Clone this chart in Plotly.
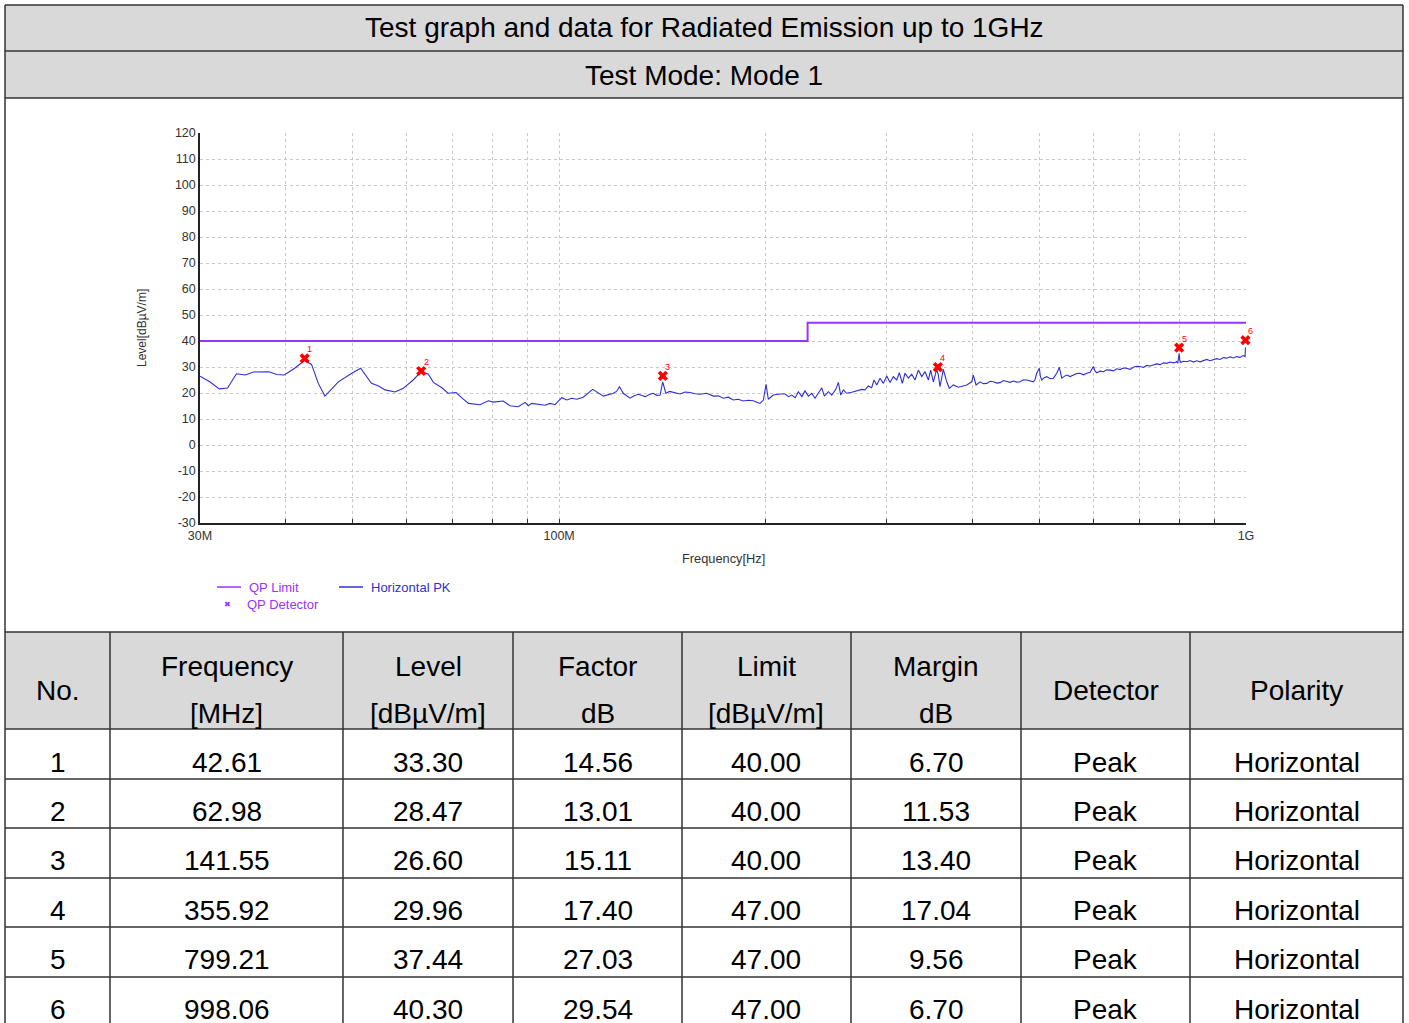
import math
import plotly.graph_objects as go

# ---------------- data ----------------
limit_freq = [30, 230, 230, 1000]
limit_level = [40, 40, 47, 47]

pk_freq = [30.0, 31.0, 32.0, 32.9, 33.9, 34.9, 35.9, 37.8, 38.8, 39.8, 41.2, 42.6, 43.6, 44.6, 45.6,
           47.7, 49.9, 51.4, 53.3, 54.5, 55.8, 57.7, 59.3, 61.3, 63.0, 64.5, 65.6, 67.5, 68.9, 70.8,
           72.1, 73.8, 76.7, 78.9, 80.2, 82.9, 84.8, 87.2, 89.2, 90.2, 91.2, 92.8, 95.4, 97.0, 98.6,
           100.9, 102.6, 104.3, 106.1, 108.4, 111.9, 116.0, 118.0, 119.9, 121.2, 122.4, 124.0, 125.4,
           126.8, 128.6, 130.4, 132.0, 133.4, 135.3, 137.1, 138.7, 140.3, 141.5, 143.0, 144.8, 146.6,
           148.3, 150.0, 152.5, 155.1, 157.7, 160.4, 163.9, 167.7, 170.5, 173.4, 176.3, 179.3, 182.3,
           185.4, 188.6, 191.8, 194.0, 196.1, 198.3, 200.1, 201.6, 205.0, 209.7,
           213.3, 215.7, 218.1, 220.6, 223.0, 225.6, 228.0, 230.6, 233.2, 235.8, 238.4, 241.2, 243.3,
           246.6, 249.4, 252.8, 255.0, 257.0, 259.3, 262.2, 266.7, 271.2, 275.8, 278.8, 281.9, 285.1,
           287.3, 290.0, 293.2, 296.5, 299.9, 303.2, 306.6, 310.1, 312.8, 316.0, 318.8, 322.4, 326.1,
           329.7, 333.4, 337.2, 341.0, 344.8, 347.5, 350.6, 354.6, 356.5, 358.5, 362.5, 366.7, 369.9,
           374.9, 381.3, 387.7, 392.2, 398.7, 400.9, 404.5, 410.0, 414.6, 419.4, 424.0, 428.8, 433.6,
           438.5, 443.4, 448.4, 453.4, 458.5, 463.6, 468.8, 474.1, 479.5, 484.8, 490.2, 493.0, 495.8,
           500.2, 502.0, 504.3, 508.5, 512.8, 518.5, 524.3, 527.3, 530.2, 534.9, 537.0, 539.2, 543.7,
           548.3, 554.5, 560.7, 567.0, 573.4, 579.9, 586.4, 592.9, 599.5, 603.0, 606.4, 613.2, 620.0,
           627.0, 634.1, 641.1, 648.3, 655.6, 663.0, 670.5, 678.0, 685.5, 693.2, 701.1, 709.0, 717.0,
           725.0, 733.0, 741.3, 749.7, 758.2, 766.7, 775.0, 784.0, 788.4, 792.0, 795.5, 799.2, 801.0,
           803.7, 810.0, 820.0, 829.0, 838.3, 848.0, 857.3, 867.0, 876.8, 886.5, 896.4, 906.5, 916.7,
           927.0, 937.5, 948.0, 958.6, 969.4, 980.4, 990.0, 996.9, 998.1, 1000.0]
pk_level = [26.5, 24.3, 21.6, 21.9, 27.4, 26.9, 28.1, 28.2, 27.1, 26.9, 29.5, 32.5, 31.0, 23.7, 18.8,
            24.3, 27.6, 29.5, 23.7, 22.8, 21.2, 20.4, 21.8, 25.0, 28.3, 27.2, 24.1, 22.0, 19.9, 20.2,
            18.2, 16.0, 15.5, 17.0, 16.5, 16.9, 15.1, 14.7, 16.4, 15.1, 16.0, 15.7, 15.3, 16.0, 15.5,
            18.2, 17.3, 18.0, 17.6, 18.4, 21.4, 18.8, 19.3, 19.9, 20.6, 22.4, 19.9, 18.9,
            18.0, 18.9, 19.5, 19.0, 18.6, 19.4, 19.9, 19.1, 19.2, 24.3, 19.9, 20.6, 20.3,
            19.8, 19.6, 20.4, 20.2, 19.7, 19.5, 19.9, 18.8, 18.9, 18.0, 18.4, 17.3, 17.6,
            16.9, 17.2, 17.0, 16.4, 16.0, 17.3, 23.3, 17.6, 19.2, 19.6,
            19.6, 18.6, 19.2, 18.2, 20.5, 18.6, 20.8, 18.8, 19.9, 18.0, 19.9, 22.0, 18.8,
            20.5, 19.2, 21.4, 24.1, 19.2, 21.2, 19.9, 20.3, 20.8, 21.4, 21.2, 22.7, 22.0,
            25.0, 23.1, 25.7, 23.7, 26.5, 24.0, 26.3, 25.0, 27.8, 23.7, 27.6, 25.7, 27.2,
            25.0, 28.8, 26.3, 28.2, 25.0, 28.8, 24.3, 29.1, 27.0, 22.4, 29.1, 24.3, 21.8,
            23.1, 22.2, 22.6, 23.1, 24.3, 26.9, 23.1, 24.3, 23.6, 23.7, 24.5, 24.3, 23.8,
            24.0, 24.8, 24.3, 24.1, 24.6, 24.2, 24.3, 25.1, 25.0, 24.6, 24.3, 25.2, 27.6,
            29.5, 26.3, 25.0, 25.9, 26.3, 25.5, 25.7, 26.8, 27.6, 29.9, 27.1, 25.7, 26.4,
            26.9, 26.3, 26.9, 27.5, 27.6, 27.0, 27.6, 28.0, 30.2, 28.4, 27.8, 28.4, 28.2,
            28.9, 28.8, 28.5, 29.3, 29.0, 29.6, 29.5, 29.1, 29.9, 30.3, 30.2, 29.8, 30.6,
            30.4, 30.8, 31.2, 30.9, 31.6, 31.4, 31.9, 31.6, 31.7, 32.1, 31.5, 35.3, 32.6,
            31.7, 32.2, 32.0, 32.5, 31.9, 32.4, 32.0, 32.6, 32.9, 32.4, 32.7, 33.2, 32.9,
            33.6, 33.4, 33.9, 33.5, 34.0, 33.7, 34.4, 34.0, 37.5, 37.0]

det_no = [1, 2, 3, 4, 5, 6]
det_freq = [42.61, 62.98, 141.55, 355.92, 799.21, 998.06]
det_level = [33.30, 28.47, 26.60, 29.96, 37.44, 40.30]
det_factor = [14.56, 13.01, 15.11, 17.40, 27.03, 29.54]
det_limit = [40.00, 40.00, 40.00, 47.00, 47.00, 47.00]
det_margin = [6.70, 11.53, 13.40, 17.04, 9.56, 6.70]
det_detector = ["Peak"] * 6
det_polarity = ["Horizontal"] * 6

grid_freq = [30, 40, 50, 60, 70, 80, 90, 100, 200, 300, 400, 500, 600, 700, 800, 900, 1000]
grid_label = ["30M", "", "", "", "", "", "", "100M", "", "", "", "", "", "", "", "", "1G"]
y_ticks = [-30, -20, -10, 0, 10, 20, 30, 40, 50, 60, 70, 80, 90, 100, 110, 120]
y_labels = ["-30", "-20", "-10", "0", "10", "20", "30", "40", "50", "60", "70", "80", "90", "100", "110", "120"]

header_top = ["No.", "Frequency", "Level", "Factor", "Limit", "Margin", "Detector", "Polarity"]
header_bottom = ["", "[MHz]", "[dBµV/m]", "dB", "[dBµV/m]", "dB", "", ""]

title_1 = "Test graph and data for Radiated Emission up to 1GHz"
title_2 = "Test Mode: Mode 1"

# ---------------- layout helpers ----------------
W, H = 1409, 1023
def px(x):
    return x / W
def py(y):
    return 1 - y / H

FONT = "Arial, Liberation Sans, sans-serif"
LIMIT_C = "#9933ff"
PK_C = "#2f2fd6"
BORDER = "#333333"
BIG = 28

fig = go.Figure()

fig.add_trace(go.Scatter(x=limit_freq, y=limit_level, mode="lines",
                         line=dict(color=LIMIT_C, width=2), name="QP Limit", showlegend=False))
fig.add_trace(go.Scatter(x=pk_freq, y=pk_level, mode="lines",
                         line=dict(color=PK_C, width=1.1), name="Horizontal PK", showlegend=False))
fig.add_trace(go.Scatter(x=det_freq, y=det_level, mode="markers",
                         marker=dict(symbol="x", size=9, color="#ff0000", line=dict(width=0)),
                         name="QP Detector", showlegend=False, cliponaxis=False))

annotations = []
shapes = []

def note(x, y, text, size, color="#000000", xanchor="center", family=FONT, **kw):
    annotations.append(dict(x=px(x), y=py(y), xref="paper", yref="paper", text=text, showarrow=False,
                            xanchor=xanchor, yanchor="middle", font=dict(family=family, size=size, color=color), **kw))

# marker labels
for n, f, l in zip(det_no, det_freq, det_level):
    annotations.append(dict(x=math.log10(f), y=l, xref="x", yref="y", text=str(n), showarrow=False,
                            xanchor="center", yanchor="middle",
                            xshift=5, yshift=9, font=dict(family=FONT, size=9, color="#ff0000")))

# axis titles
note(723, 558, "Frequency[Hz]", 12.8, "#333333")
note(142, 328, "Level[dBµV/m]", 12, "#333333", textangle=-90)

# legend
shapes.append(dict(type="line", xref="paper", yref="paper", x0=px(217), x1=px(241), y0=py(587), y1=py(587),
                   line=dict(color=LIMIT_C, width=1.5)))
note(247, 587, "QP Limit", 13, LIMIT_C, xanchor="left")
shapes.append(dict(type="line", xref="paper", yref="paper", x0=px(339), x1=px(363), y0=py(587), y1=py(587),
                   line=dict(color=PK_C, width=1.5)))
note(369, 587, "Horizontal PK", 13, PK_C, xanchor="left")
note(227, 604, "✖", 8, LIMIT_C, family="DejaVu Sans")
note(245, 604, "QP Detector", 13, LIMIT_C, xanchor="left")

# title rows
GRAY = "#d9d9d9"
shapes.append(dict(type="rect", xref="paper", yref="paper", x0=px(5), x1=px(1403), y0=py(5), y1=py(98),
                   fillcolor=GRAY, line=dict(width=0), layer="below"))
shapes.append(dict(type="rect", xref="paper", yref="paper", x0=px(5), x1=px(1403), y0=py(632), y1=py(729),
                   fillcolor=GRAY, line=dict(width=0), layer="below"))
note(704, 28, title_1, BIG)
note(704, 75, title_2, BIG)

# borders
for yy in [5, 51, 98, 632, 729, 779, 828, 878, 927, 977]:
    shapes.append(dict(type="line", xref="paper", yref="paper", x0=px(5), x1=px(1403), y0=py(yy), y1=py(yy),
                       line=dict(color=BORDER, width=1.5)))
for xx in [5, 1403]:
    shapes.append(dict(type="line", xref="paper", yref="paper", x0=px(xx), x1=px(xx), y0=py(5), y1=py(1023),
                       line=dict(color=BORDER, width=1.5)))
col_edges = [5, 110, 343, 513, 682, 851, 1021, 1190, 1403]
for xx in col_edges[1:-1]:
    shapes.append(dict(type="line", xref="paper", yref="paper", x0=px(xx), x1=px(xx), y0=py(632), y1=py(1023),
                       line=dict(color=BORDER, width=1.5)))

col_centers = [(col_edges[i] + col_edges[i + 1]) / 2 for i in range(len(col_edges) - 1)]
for c, top, bot in zip(col_centers, header_top, header_bottom):
    if bot:
        note(c, 666, top, BIG)
        note(c, 713, bot, BIG)
    else:
        note(c, 690, top, BIG)

rows = list(zip(det_no, det_freq, det_level, det_factor, det_limit, det_margin, det_detector, det_polarity))
for i, r in enumerate(rows):
    yc = 762 + 49.4 * i
    cells = [str(r[0])] + [f"{v:.2f}" for v in r[1:6]] + [r[6], r[7]]
    for c, t in zip(col_centers, cells):
        note(c, yc, t, BIG)

fig.update_layout(
    autosize=True,
    margin=dict(l=0, r=0, t=0, b=0, pad=0, autoexpand=False),
    paper_bgcolor="white", plot_bgcolor="white",
    showlegend=False,
    annotations=annotations, shapes=shapes,
    xaxis=dict(type="log", range=[math.log10(30), math.log10(1000)], domain=[px(200), px(1246)],
               tickmode="array", tickvals=grid_freq, ticktext=grid_label, automargin=False,
               showgrid=True, gridcolor="#c8c8c8", griddash="dot", gridwidth=1,
               ticks="inside", ticklen=4, tickcolor="#333333", tickwidth=1,
               showline=True, linecolor="#222222", linewidth=1.5, zeroline=False,
               tickfont=dict(family=FONT, size=12.5, color="#333333"), anchor="y"),
    yaxis=dict(range=[-30, 120], domain=[py(523), py(133)], automargin=False,
               tickmode="array", tickvals=y_ticks, ticktext=y_labels,
               showgrid=True, gridcolor="#c8c8c8", griddash="dot", gridwidth=1,
               ticks="", showline=True, linecolor="#222222", linewidth=1.5, zeroline=False,
               tickfont=dict(family=FONT, size=12.5, color="#333333"), anchor="x"),
)

fig.write_html("out.html", config={"displayModeBar": False, "responsive": False},
               default_width="1409px; position:absolute; left:0px; top:0px",
               default_height="1023px")
